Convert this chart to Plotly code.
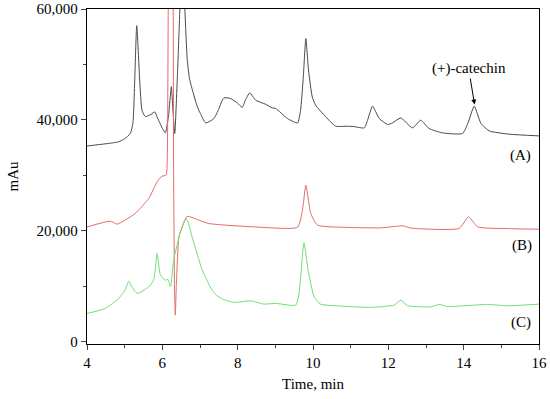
import plotly.graph_objects as go

# Trace (A) - black/gray
a_time = [4.0, 4.5, 4.84, 5.0, 5.15, 5.22, 5.32, 5.40, 5.46, 5.55, 5.70, 5.80, 5.86, 6.0, 6.08,
          6.16, 6.24, 6.28, 6.33, 6.40, 6.46, 6.52, 6.59, 6.66, 6.72, 6.79, 6.93, 7.01, 7.15,
          7.37, 7.50, 7.63, 7.81, 8.00, 8.12, 8.20, 8.32, 8.48, 8.74, 8.92, 9.01, 9.32, 9.59,
          9.67, 9.74, 9.81, 9.88, 9.98, 10.07, 10.34, 10.60, 10.91, 11.09, 11.36, 11.45, 11.58,
          11.76, 11.98, 12.11, 12.33, 12.64, 12.86, 13.08, 13.44, 13.97, 14.11, 14.28, 14.46,
          14.68, 15.21, 16.0]
a_mau = [35300, 35700, 36050, 36600, 37550, 39500, 57000, 47000, 41750, 40600, 41000, 41450,
         40550, 38500, 37660, 40500, 46000, 42000, 37550, 48000, 59000, 70000, 61000, 51000,
         47500, 45600, 42350, 41160, 39460, 40250, 42000, 43970, 43860, 43000, 42240, 43500,
         44870, 43550, 42830, 42170, 42060, 40260, 39460, 41750, 47500, 54670, 49000, 44150,
         42650, 40550, 38870, 38870, 38800, 38560, 40000, 42470, 40250, 39170, 39460, 40360,
         38560, 39950, 38450, 37660, 37550, 39350, 42470, 39350, 38020, 37430, 37120]

# Trace (B) - red
b_time = [4.0, 4.62, 4.80, 5.28, 5.64, 5.86, 5.99, 6.10, 6.13, 6.16, 6.22, 6.285, 6.30, 6.325,
          6.345, 6.37, 6.44, 6.53, 6.66, 6.97, 7.23, 7.68, 8.43, 9.59, 9.72, 9.81, 9.94, 10.12,
          11.0, 11.8, 12.38, 12.6, 13.88, 14.13, 14.37, 15.17, 16.0]
b_mau = [20700, 21750, 21210, 23140, 25840, 28830, 29860, 30040, 32740, 62000, 80000, 62000,
         30000, 9000, 4810, 10000, 18920, 20720, 22600, 21930, 21330, 21030, 20720, 20650,
         23730, 28240, 23140, 21030, 20610, 20540, 20900, 20500, 20430, 22530, 20720, 20400,
         20300]

# Trace (C) - green
c_time = [4.0, 4.49, 4.84, 5.0, 5.11, 5.20, 5.33, 5.64, 5.77, 5.86, 5.95, 6.08, 6.15, 6.22,
          6.30, 6.48, 6.61, 6.66, 6.79, 7.06, 7.32, 7.45, 7.60, 7.90, 8.34, 8.70, 9.01, 9.54,
          9.63, 9.76, 9.87, 10.03, 10.20, 10.74, 11.53, 12.15, 12.33, 12.51, 13.13, 13.35,
          13.57, 14.64, 15.17, 16.0]
c_mau = [5100, 6020, 7820, 9200, 10940, 9800, 8720, 9910, 11120, 15930, 12020, 11120, 11240,
         9910, 14720, 19820, 22060, 22000, 18920, 12920, 9320, 8300, 7700, 7100, 7390, 6790,
         6920, 6610, 8720, 17840, 12920, 8110, 6790, 6430, 6200, 6610, 7510, 6500, 6310, 6740,
         6350, 6740, 6490, 6790]

x_ticks = [4, 6, 8, 10, 12, 14, 16]
y_ticks = [0, 20000, 40000, 60000]
y_tick_text = ["0", "20,000", "40,000", "60,000"]

font = "Liberation Serif"
fnt = dict(family=font, size=15, color="black")

fig = go.Figure()
fig.add_trace(go.Scatter(x=a_time, y=a_mau, mode="lines", name="(A)",
                         line=dict(color="#4a4a4a", width=1, shape="spline", smoothing=0.5)))
fig.add_trace(go.Scatter(x=b_time, y=b_mau, mode="lines", name="(B)",
                         line=dict(color="#e46a6a", width=1, shape="spline", smoothing=0.5)))
fig.add_trace(go.Scatter(x=c_time, y=c_mau, mode="lines", name="(C)",
                         line=dict(color="#6ee06e", width=1, shape="spline", smoothing=0.5)))

fig.update_layout(
    width=550, height=399,
    margin=dict(l=87, r=11, t=9, b=55),
    paper_bgcolor="white", plot_bgcolor="white",
    showlegend=False,
    font=fnt,
    xaxis=dict(range=[4, 16], tickvals=x_ticks, ticks="outside", ticklen=5, tickwidth=1.2,
               showline=True, linecolor="black", linewidth=1.3, mirror=True,
               showgrid=False, zeroline=False, automargin=False,
               minor=dict(dtick=1, ticks="outside", ticklen=3, tickwidth=1.2),
               title=dict(text="Time, min", font=fnt, standoff=8),
               tickfont=fnt),
    yaxis=dict(range=[-400, 60000], tickvals=y_ticks, ticktext=y_tick_text,
               ticks="outside", ticklen=5, tickwidth=1.2,
               showline=True, linecolor="black", linewidth=1.3, mirror=True,
               showgrid=False, zeroline=False, automargin=False,
               minor=dict(tickvals=[10000, 30000, 50000], ticks="outside", ticklen=3, tickwidth=1.2),
               title=dict(text="mAu", font=fnt, standoff=14),
               tickfont=fnt),
)

fig.add_annotation(x=14.29, y=42780, xref="x", yref="y", text="(+)-catechin",
                   showarrow=True, arrowhead=2, arrowsize=1, arrowwidth=1, arrowcolor="black",
                   ax=-6, ay=-36, font=fnt)
for lbl, xv, yv in [("(A)", 15.52, 33640), ("(B)", 15.55, 17430), ("(C)", 15.52, 3550)]:
    fig.add_annotation(x=xv, y=yv, xref="x", yref="y", text=lbl, showarrow=False, font=fnt)

fig.write_html("out.html", config={"displayModeBar": False},
               post_script="document.body.style.margin='0px';")
